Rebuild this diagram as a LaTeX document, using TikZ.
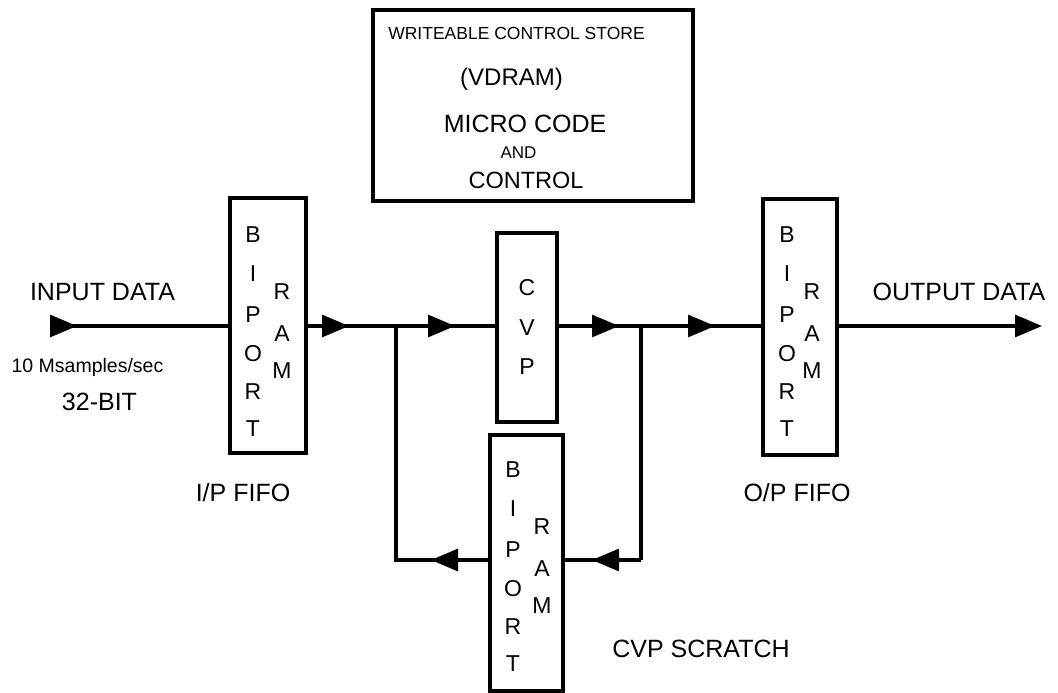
\documentclass[tikz,border=0pt]{standalone}
\usepackage{fontspec}
\setmainfont{Liberation Sans}
\usetikzlibrary{arrows.meta,decorations.markings}

\begin{document}
\begin{tikzpicture}[x=1pt,y=-1pt,line width=3.2pt,
  >={Triangle[length=27pt,width=22pt]},
  blk/.style={draw,inner sep=0pt,outer sep=0pt},
  ltr/.style={inner sep=0pt,font=\fontsize{23}{23}\selectfont},
  lbl/.style={inner sep=0pt,anchor=base,font=\fontsize{25}{25}\selectfont},
  flow/.style={postaction={decorate},decoration={markings,mark=at position #1 with {\arrow{>}}}}]
\useasboundingbox (0,0) rectangle (1058,693);
\node[blk,minimum width=320pt,minimum height=191pt] (wcs) at (533,105.5) {};
\node[blk,minimum width=76pt,minimum height=255pt] (ipf) at (268,325.5) {};
\node[blk,minimum width=60pt,minimum height=189pt] (cvp) at (527,327.5) {};
\node[blk,minimum width=74pt,minimum height=256pt] (opf) at (800,327) {};
\node[blk,minimum width=73pt,minimum height=256pt] (scr) at (526.5,563) {};
\node[lbl,font=\fontsize{17.5}{17.5}\selectfont] (wcs-t1) at (516.5,40) {WRITEABLE CONTROL STORE};
\node[lbl,font=\fontsize{24}{24}\selectfont] (wcs-t2) at (511.5,85) {(VDRAM)};
\node[lbl] (wcs-t3) at (525,132) {MICRO CODE};
\node[lbl,font=\fontsize{17}{17}\selectfont] (wcs-t4) at (518.5,158) {AND};
\node[lbl,font=\fontsize{23.5}{23.5}\selectfont] (wcs-t5) at (526,188) {CONTROL};
\foreach \b/\x/\r/\y in {ipf/253/29/235, opf/787/25/235, scr/513/29/470} {
  \foreach \l/\dy [count=\i] in {B/0,I/39,P/80,O/119,R/157,T/194}
    \node[ltr] (\b-l\i) at (\x,\y+\dy) {\l};
  \foreach \l/\dy [count=\i] in {R/57,A/99,M/136}
    \node[ltr] (\b-r\i) at (\x+\r,\y+\dy) {\l};
}
\foreach \l/\dy [count=\i] in {C/288,V/328,P/367}
  \node[ltr] (cvp-l\i) at (527,\dy) {\l};
\node[lbl] (indata) at (102.5,300) {INPUT DATA};
\node[lbl,font=\fontsize{19.5}{19.5}\selectfont] (rate) at (87.5,372) {10 Msamples/sec};
\node[lbl] (bits) at (99.5,410) {32-BIT};
\node[lbl] (outdata) at (959,300) {OUTPUT DATA};
\node[lbl] (ipfifo) at (243,501) {I/P FIFO};
\node[lbl] (opfifo) at (797,501) {O/P FIFO};
\node[lbl] (scratch) at (701,657) {CVP SCRATCH};
\coordinate (in) at (50,326);
\coordinate (j1) at (396,326);
\coordinate (j2) at (641,326);
\coordinate (out) at (1042,326);
\coordinate (k1) at (396,560);
\coordinate (k2) at (641,560);
\draw[flow=27pt] (in) -- (in -| ipf.west);
\draw[flow=43pt] (ipf.east |- in) -- (j1);
\draw[flow=59pt] (j1) -- (j1 -| cvp.west);
\draw[flow=62pt] (cvp.east |- j2) -- (j2);
\draw[flow=74pt] (j2) -- (j2 -| opf.west);
\draw[->] (opf.east |- out) -- (out);
\draw (j2) -- (k2);
\draw[flow=49pt] (k2) -- (k2 -| scr.east);
\draw[flow=59pt] (scr.west |- k1) -- (k1) -- (j1);
\end{tikzpicture}
\end{document}
